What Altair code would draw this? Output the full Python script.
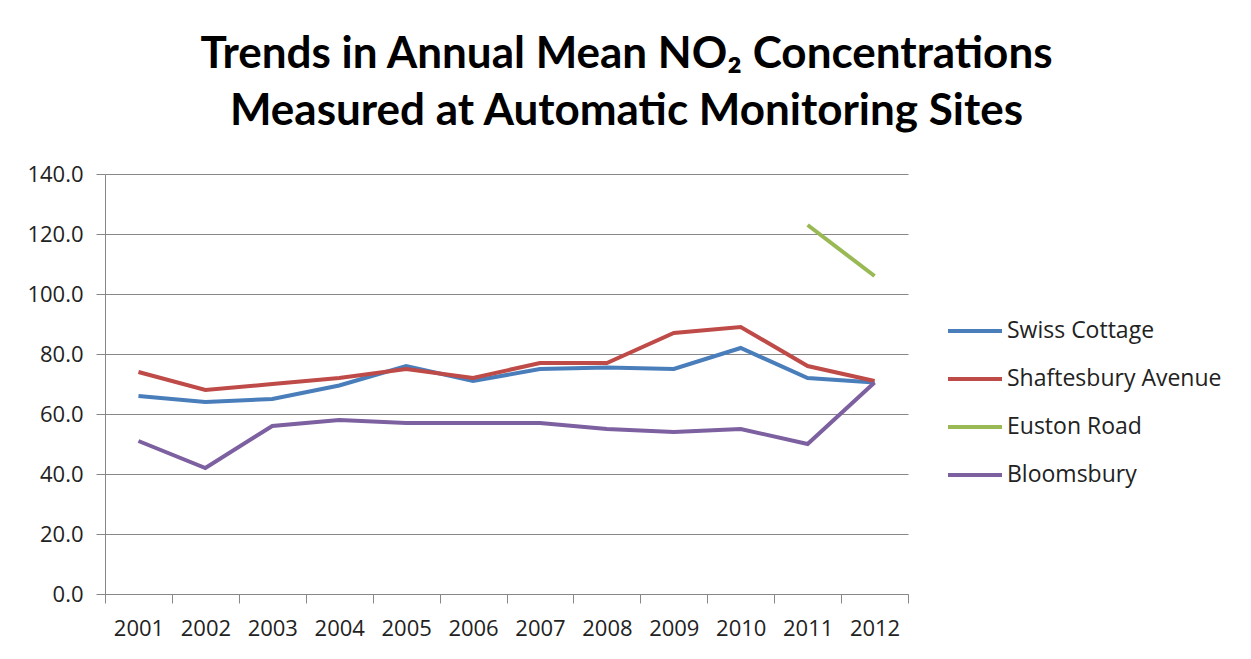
import altair as alt
import pandas as pd

years = [str(y) for y in range(2001, 2013)]
swiss = [66, 64, 65, 69.5, 76, 71, 75, 75.5, 75, 82, 72, 70.5]
shaft = [74, 68, 70, 72, 75, 72, 77, 77, 87, 89, 76, 71]
euston_years = ["2011", "2012"]
euston = [123, 106]
bloom = [51, 42, 56, 58, 57, 57, 57, 55, 54, 55, 50, 70.5]
sites = ["Swiss Cottage", "Shaftesbury Avenue", "Euston Road", "Bloomsbury"]
colors = ["#4A7EBB", "#BE4B48", "#98B954", "#7D60A0"]

rows = []
for y, v in zip(years, swiss):
    rows.append({"Year": y, "Site": sites[0], "Value": v})
for y, v in zip(years, shaft):
    rows.append({"Year": y, "Site": sites[1], "Value": v})
for y, v in zip(euston_years, euston):
    rows.append({"Year": y, "Site": sites[2], "Value": v})
for y, v in zip(years, bloom):
    rows.append({"Year": y, "Site": sites[3], "Value": v})
df = pd.DataFrame(rows)

TITLE_FONT = "Lato"
FONT = "Open Sans"

chart = alt.Chart(df).mark_line(strokeWidth=4).encode(
    x=alt.X("Year:O", sort=years, title=None,
            scale=alt.Scale(type="band", domain=years, paddingInner=0, paddingOuter=0),
            axis=alt.Axis(tickBand="extent", labelAngle=0, grid=False, tickSize=9,
                          labelPadding=15, labelFontSize=22)),
    y=alt.Y("Value:Q", title=None,
            scale=alt.Scale(domain=[0, 140], nice=False),
            axis=alt.Axis(values=[0, 20, 40, 60, 80, 100, 120, 140], format=".1f",
                          tickSize=9, labelPadding=13, labelFontSize=22, grid=True)),
    color=alt.Color("Site:N", sort=sites,
                    scale=alt.Scale(domain=sites, range=colors),
                    legend=alt.Legend(title=None, orient="none", legendX=841, legendY=128,
                                      symbolType="stroke", symbolSize=2916,
                                      symbolStrokeWidth=4, labelFontSize=23,
                                      labelOffset=3, rowPadding=7, labelLimit=0,
                                      labelColor="#222")),
).properties(
    width=803,
    height=420,
    padding={"left": 97, "top": 166, "right": 335, "bottom": 57},
    autosize=alt.AutoSizeParams(type="none"),
    title=alt.TitleParams(
        ["Trends in Annual Mean NO₂ Concentrations", "Measured at Automatic Monitoring Sites"],
        font=TITLE_FONT, fontSize=44, fontWeight="bold", lineHeight=57,
        anchor="middle", dx=120, offset=29, color="#000"),
).configure_view(stroke=None).configure_axis(
    domainColor="#888", tickColor="#888", gridColor="#888",
    labelFont=FONT, labelColor="#222", domainWidth=1, tickWidth=1, gridWidth=1,
).configure_legend(labelFont=FONT)

chart.save("out.html", embed_options={"renderer": "svg", "actions": False})
